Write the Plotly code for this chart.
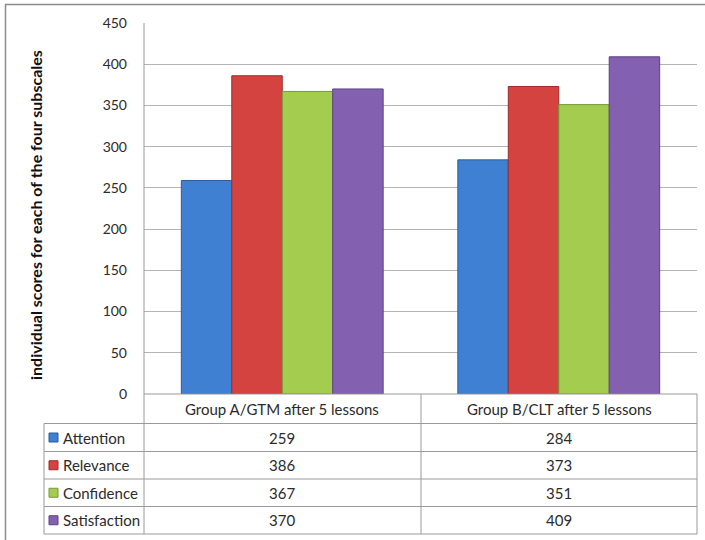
import plotly.graph_objects as go

# Data
groups = ["Group A/GTM after 5 lessons", "Group B/CLT after 5 lessons"]
subscales = ["Attention", "Relevance", "Confidence", "Satisfaction"]
attention = [259, 284]
relevance = [386, 373]
confidence = [367, 351]
satisfaction = [370, 409]
y_ticks = [0, 50, 100, 150, 200, 250, 300, 350, 400, 450]
y_title = "individual scores for each of the four subscales"

series = [attention, relevance, confidence, satisfaction]
fills = ["#3F80D2", "#D54341", "#A4CC4E", "#8461B0"]
edges = ["#2A5C9E", "#9A2C2A", "#76993A", "#5D4284"]

W, H = 705, 540
L, R, T, B = 144, 8, 23, 146
FONT = "Lato, Carlito, 'Open Sans', sans-serif"
TXT = "#2b2b2b"
LINE = "#9a9a9a"

def px(x):
    return (x - L) / (W - L - R)

def py(y):
    return (H - B - y) / (H - T - B)

fig = go.Figure()
for name, vals, c, e in zip(subscales, series, fills, edges):
    fig.add_trace(go.Bar(x=groups, y=vals, name=name,
                         marker=dict(color=c, line=dict(color=e, width=1))))

shapes = []
def seg(x0, y0, x1, y1, color=LINE, w=1):
    shapes.append(dict(type="line", xref="paper", yref="paper",
                       x0=px(x0), y0=py(y0), x1=px(x1), y1=py(y1),
                       line=dict(color=color, width=w), layer="above"))

# outer frame
shapes.append(dict(type="rect", xref="paper", yref="paper",
                   x0=px(5.5), y0=py(4.5), x1=px(712), y1=py(548),
                   line=dict(color="#8c8c8c", width=1.5), layer="below"))

# data table grid
row_lines = [394, 423.5, 451.5, 479, 506.5, 534]
seg(144, 23, 144, 534)
seg(697, 394, 697, 534)
seg(421, 394, 421, 534)
seg(44, 423.5, 44, 534)
seg(144, 394, 697, 394)
for yy in row_lines[1:]:
    seg(44, yy, 697, yy)

def label(x, y, text, size=15, xanchor="center", **kw):
    return dict(x=px(x), y=py(y), xref="paper", yref="paper", text=text,
                showarrow=False, xanchor=xanchor, yanchor="middle",
                font=dict(family=FONT, size=size, color=kw.get("color", TXT)),
                textangle=kw.get("angle", 0))

annotations = []
col_centers = [282, 559]
for g, cx in zip(groups, col_centers):
    annotations.append(label(cx, 409, g))

for i, (name, vals, c, e) in enumerate(zip(subscales, series, fills, edges)):
    yc = (row_lines[i + 1] + row_lines[i + 2]) / 2
    shapes.append(dict(type="rect", xref="paper", yref="paper",
                       x0=px(49), x1=px(58), y0=py(yc - 4.5), y1=py(yc + 4.5),
                       fillcolor=c, line=dict(color=e, width=1), layer="above"))
    annotations.append(label(61, yc, name, xanchor="left"))
    for v, cx in zip(vals, col_centers):
        annotations.append(label(cx, yc, str(v)))

annotations.append(label(36, 215, "<b>" + y_title + "</b>", size=16,
                         color="#111", angle=-90))

fig.update_layout(
    width=W, height=H,
    margin=dict(l=L, r=R, t=T, b=B),
    paper_bgcolor="white", plot_bgcolor="white",
    barmode="group", bargap=0.27, bargroupgap=0,
    showlegend=False,
    font=dict(family=FONT, size=14, color=TXT),
    xaxis=dict(showticklabels=False, showgrid=False, zeroline=False,
               showline=False, fixedrange=True),
    yaxis=dict(range=[0, 450], tickvals=y_ticks, showgrid=True,
               gridcolor="#b4b4b4", gridwidth=1, zeroline=False,
               showline=False, ticklabelstandoff=16,
               tickfont=dict(family=FONT, size=14, color=TXT)),
    shapes=shapes, annotations=annotations,
)

fig.write_html("out.html")
